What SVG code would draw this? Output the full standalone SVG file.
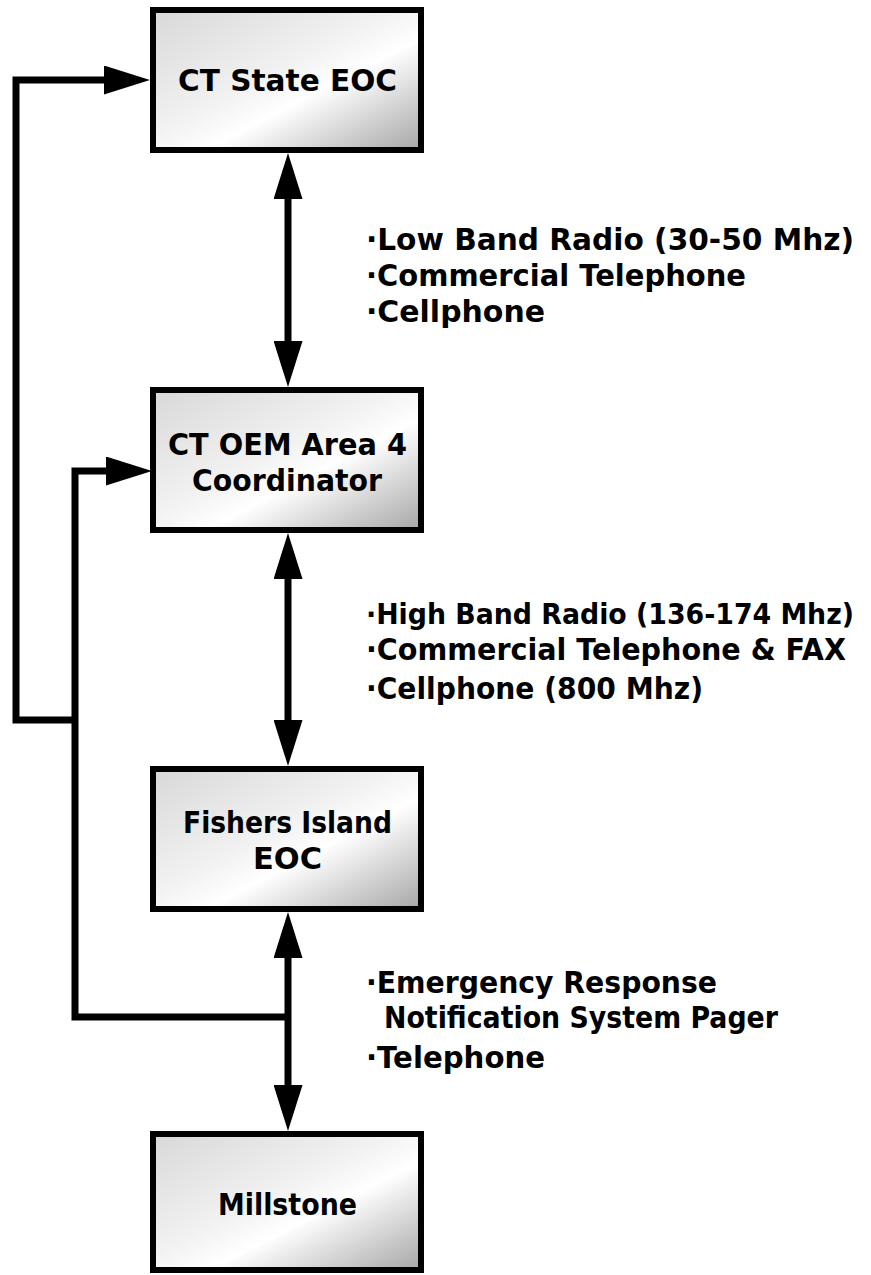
<svg xmlns="http://www.w3.org/2000/svg" width="871" height="1275" viewBox="0 0 871 1275">
<style>
.box{stroke:#000;stroke-width:6;fill:url(#g)}
.t{font-family:"DejaVu Sans","Liberation Sans",sans-serif;font-weight:bold;font-size:30px;fill:#000}
.c{text-anchor:middle}
.ln{fill:none;stroke:#000;stroke-width:7;stroke-linejoin:miter;stroke-linecap:butt}
</style>
<defs>
<linearGradient id="g" x1="0" y1="0" x2="1" y2="1">
<stop offset="0" stop-color="#d8d8d8"/>
<stop offset="0.45" stop-color="#f2f2f2"/>
<stop offset="0.6" stop-color="#ffffff"/>
<stop offset="1" stop-color="#a6a6a6"/>
</linearGradient>
<marker id="ah" viewBox="0 0 46 29" markerWidth="46" markerHeight="29" refX="26" refY="14.5" markerUnits="userSpaceOnUse" orient="auto-start-reverse">
<path d="M0,0 L46,14.5 L0,29 Z" fill="#000"/>
</marker>
</defs>
<g id="connectors">
<path class="ln" d="M288,173 L288,367" marker-start="url(#ah)" marker-end="url(#ah)"/>
<path class="ln" d="M288,553 L288,746" marker-start="url(#ah)" marker-end="url(#ah)"/>
<path class="ln" d="M288,932 L288,1111" marker-start="url(#ah)" marker-end="url(#ah)"/>
<path class="ln" d="M288,1017 L75,1017 L75,471 L132,471" marker-end="url(#ah)"/>
<path class="ln" d="M75,720 L16,720 L16,80 L130,80" marker-end="url(#ah)"/>
</g>
<g id="node-ct-state-eoc">
<rect class="box" x="153" y="10" width="268" height="140"/>
<text class="t c" x="287.5" y="91" textLength="219" lengthAdjust="spacingAndGlyphs">CT State EOC</text>
</g>
<g id="node-ct-oem">
<rect class="box" x="153" y="390" width="268" height="140"/>
<text class="t c" x="287.5" y="455" textLength="239" lengthAdjust="spacingAndGlyphs">CT OEM Area 4</text>
<text class="t c" x="287" y="491" textLength="190" lengthAdjust="spacingAndGlyphs">Coordinator</text>
</g>
<g id="node-fishers">
<rect class="box" x="153" y="769" width="268" height="140"/>
<text class="t c" x="287.5" y="833" textLength="209" lengthAdjust="spacingAndGlyphs">Fishers Island</text>
<text class="t c" x="287.5" y="869" textLength="69" lengthAdjust="spacingAndGlyphs">EOC</text>
</g>
<g id="node-millstone">
<rect class="box" x="153" y="1134" width="268" height="136"/>
<text class="t c" x="287.5" y="1215" textLength="139" lengthAdjust="spacingAndGlyphs">Millstone</text>
</g>
<g id="labels">
<text class="t" x="366" y="250" textLength="488" lengthAdjust="spacingAndGlyphs">·Low Band Radio (30-50 Mhz)</text>
<text class="t" x="366" y="286" textLength="380" lengthAdjust="spacingAndGlyphs">·Commercial Telephone</text>
<text class="t" x="366" y="322" textLength="179" lengthAdjust="spacingAndGlyphs">·Cellphone</text>
<text class="t" x="366" y="624" style="font-size:27.5px" textLength="488" lengthAdjust="spacingAndGlyphs">·High Band Radio (136-174 Mhz)</text>
<text class="t" x="366" y="660" textLength="480" lengthAdjust="spacingAndGlyphs">·Commercial Telephone &amp; FAX</text>
<text class="t" x="366" y="699" textLength="337" lengthAdjust="spacingAndGlyphs">·Cellphone (800 Mhz)</text>
<text class="t" x="366" y="993" textLength="351" lengthAdjust="spacingAndGlyphs">·Emergency Response</text>
<text class="t" x="384" y="1028" textLength="394" lengthAdjust="spacingAndGlyphs">Notification System Pager</text>
<text class="t" x="366" y="1068" textLength="179" lengthAdjust="spacingAndGlyphs">·Telephone</text>
</g>
</svg>
